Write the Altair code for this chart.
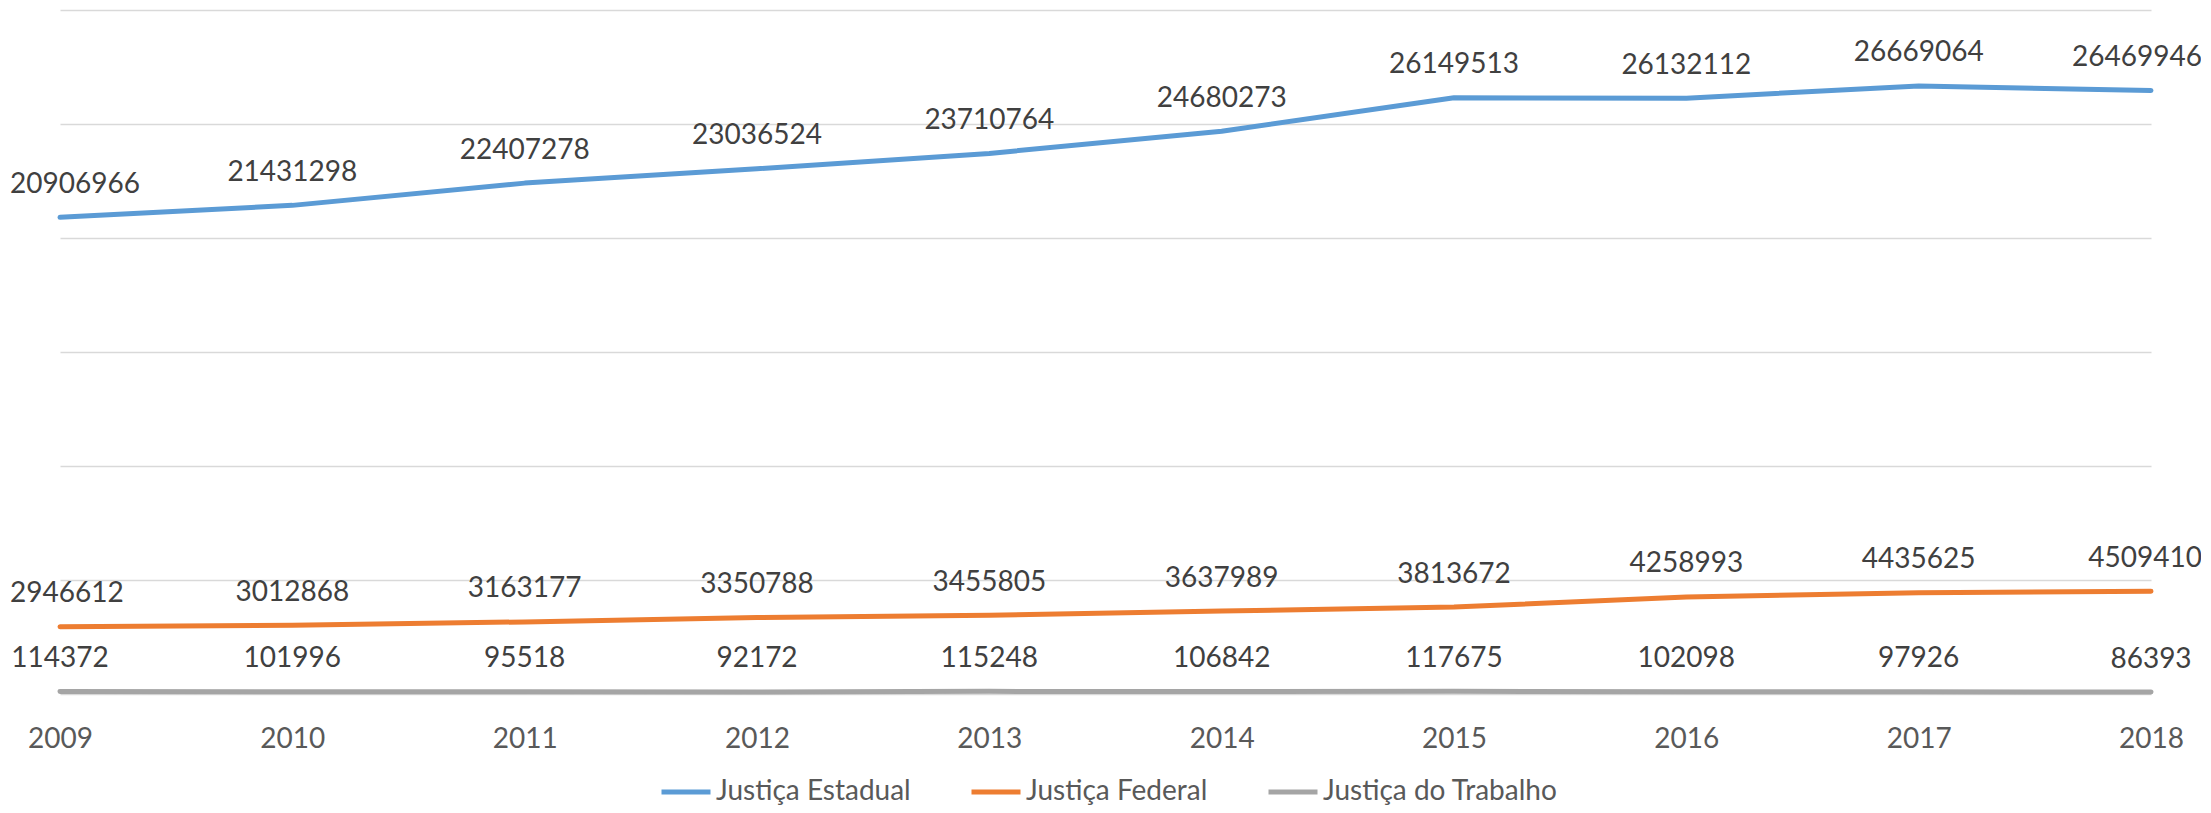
import altair as alt
import pandas as pd

years = ["2009", "2010", "2011", "2012", "2013", "2014", "2015", "2016", "2017", "2018"]
series_names = ["Justiça Estadual", "Justiça Federal", "Justiça do Trabalho"]
estadual = [20906966, 21431298, 22407278, 23036524, 23710764, 24680273, 26149513, 26132112, 26669064, 26469946]
federal = [2946612, 3012868, 3163177, 3350788, 3455805, 3637989, 3813672, 4258993, 4435625, 4509410]
trabalho = [114372, 101996, 95518, 92172, 115248, 106842, 117675, 102098, 97926, 86393]
colors = ["#5B9BD5", "#ED7D31", "#A5A5A5"]

rows = []
for name, vals in zip(series_names, [estadual, federal, trabalho]):
    for y, v in zip(years, vals):
        rows.append({"year": y, "series": name, "value": v, "order": series_names.index(name)})
df = pd.DataFrame(rows)

FONT = "Lato"

x_enc = alt.X(
    "year:O",
    scale=alt.Scale(type="point", padding=0),
    axis=alt.Axis(
        title=None, labelAngle=0, labelFont=FONT, labelFontSize=28, labelColor="#595959",
        ticks=False, tickSize=0, domain=False, grid=False, labelPadding=53,
        labelBaseline="alphabetic",
    ),
)
y_enc = alt.Y(
    "value:Q",
    scale=alt.Scale(domain=[0, 30000000], nice=False, zero=True),
    axis=alt.Axis(
        title=None, labels=False, ticks=False, domain=False,
        values=list(range(0, 30000001, 5000000)),
        gridColor="#D9D9D9", gridWidth=1.3,
    ),
)

lines = alt.Chart(df).mark_line(strokeWidth=5, strokeCap="round", strokeJoin="round").encode(
    x=x_enc,
    y=y_enc,
    color=alt.Color(
        "series:N",
        scale=alt.Scale(domain=series_names, range=colors),
        sort=series_names,
        legend=alt.Legend(
            title=None, orient="none", direction="horizontal", legendX=599, legendY=755,
            symbolType="stroke", symbolSize=2401, symbolStrokeWidth=5,
            labelFont=FONT, labelFontSize=28, labelColor="#595959", labelLimit=600,
            labelOffset=3, columnPadding=50, padding=0,
        ),
    ),
    order=alt.Order("order:Q"),
)

labels = alt.Chart(df).transform_calculate(
    w="length(toString(datum.value)) * 16.25",
).transform_calculate(
    off="datum.year == '2009' ? max(0, datum.w / 2 - 50) : (datum.year == '2018' ? -max(0, datum.w / 2 - 51) : 0)",
).mark_text(
    font=FONT, fontSize=28, color="#404040", baseline="alphabetic", align="center", dy=-24.5,
).encode(
    x=alt.X("year:O", scale=alt.Scale(type="point", padding=0)),
    y=alt.Y("value:Q"),
    xOffset=alt.XOffset("off:Q", scale=None),
    text=alt.Text("value:Q", format="d"),
)

chart = alt.layer(lines, labels).properties(
    width=2091, height=684,
    autosize=alt.AutoSizeParams(type="none"),
    padding={"left": 52, "top": 2, "right": 50, "bottom": 111},
).configure_view(stroke=None)

chart.save("out.html", embed_options={"renderer": "svg", "actions": False})
